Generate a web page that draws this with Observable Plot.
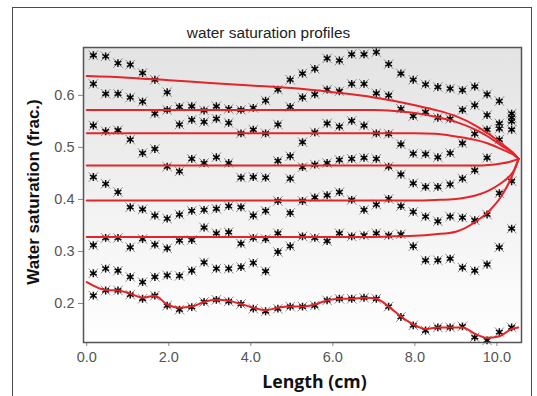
<!DOCTYPE html>
<html><head><meta charset="utf-8">
<script src="https://cdn.jsdelivr.net/npm/d3@7"></script>
<script src="https://cdn.jsdelivr.net/npm/@observablehq/plot@0.6"></script>
<style>
html,body{margin:0;padding:0;background:#fff;}
#wrap{position:relative;width:537px;height:396px;overflow:hidden;}
#outer{position:absolute;left:12px;top:7px;width:520px;height:420px;border:1.5px solid #4a4a4a;box-sizing:border-box;pointer-events:none;}
#chart{position:absolute;left:0;top:0;}
</style></head><body>
<div id="wrap"><div id="chart"></div><div id="outer"></div></div>
<script>
// measurement positions along the core (cm)
const positions = [0.16,0.46,0.76,1.06,1.36,1.66,1.96,2.26,2.56,2.86,3.16,3.46,3.76,4.06,4.36,4.66,4.96,5.26,5.56,5.86,6.16,6.46,6.76,7.06,7.36,7.66,7.96,8.26,8.56,8.86,9.16,9.46,9.76,10.06,10.36];
// measured saturation profiles (asterisks)
const profile1 = [0.677,0.675,0.662,0.659,0.643,0.630,0.606,0.578,0.579,0.571,0.579,0.574,0.572,0.576,0.590,0.611,0.630,0.642,0.651,0.671,0.667,0.679,0.679,0.683,0.660,0.642,0.630,0.621,0.616,0.613,0.610,0.617,0.602,0.589,0.565];
const profile2 = [0.622,0.603,0.603,0.596,0.588,0.565,0.572,0.544,0.553,0.549,0.555,0.547,0.527,0.534,0.527,0.544,0.578,0.596,0.602,0.611,0.608,0.622,0.622,0.604,0.600,0.574,0.560,0.568,0.557,0.555,0.572,0.581,0.562,0.546,0.557];
const profile3 = [0.542,0.531,0.533,0.515,0.489,0.497,0.463,0.454,0.478,0.470,0.481,0.470,0.442,0.443,0.442,0.474,0.483,0.510,0.529,0.546,0.540,0.551,0.542,0.527,0.526,0.506,0.488,0.487,0.481,0.489,0.508,0.526,0.534,0.536,0.550];
const profile4 = [0.443,0.430,0.414,0.385,0.381,0.369,0.363,0.371,0.378,0.380,0.382,0.387,0.385,0.369,0.378,0.397,0.440,0.462,0.467,0.470,0.476,0.478,0.480,0.478,0.463,0.448,0.431,0.424,0.424,0.429,0.440,0.456,0.480,0.515,0.534];
const profile5 = [0.312,0.326,0.326,0.308,0.324,0.313,0.306,0.321,0.322,0.346,0.335,0.337,0.315,0.326,0.324,0.335,0.374,0.397,0.404,0.408,0.414,0.399,0.380,0.390,0.401,0.387,0.376,0.367,0.358,0.367,0.365,0.360,0.371,0.412,0.435];
const profile6 = [0.258,0.267,0.263,0.251,0.241,0.251,0.254,0.253,0.263,0.279,0.267,0.267,0.270,0.278,0.262,0.299,0.310,0.329,0.326,0.320,0.335,0.329,0.331,0.335,0.331,0.333,0.310,0.283,0.283,0.286,0.269,0.263,0.275,0.308,0.344];
const profile7 = [0.215,0.225,0.225,0.217,0.209,0.215,0.196,0.188,0.193,0.203,0.207,0.204,0.199,0.190,0.185,0.190,0.194,0.194,0.196,0.206,0.209,0.209,0.211,0.209,0.194,0.174,0.158,0.148,0.154,0.154,0.156,0.135,0.129,0.145,0.154];
const profiles = [profile1,profile2,profile3,profile4,profile5,profile6,profile7];

// fitted (simulated) profiles, red curves
const fitX = [0,1,2,3,4,5,6,7,7.5,8,8.5,9,9.5,9.8,10.1,10.3,10.42,10.53];
const fit1 = [0.637,0.634,0.629,0.624,0.619,0.614,0.606,0.596,0.589,0.581,0.572,0.560,0.541,0.526,0.508,0.496,0.488,0.478];
const fit2 = [0.572,0.572,0.572,0.572,0.572,0.572,0.572,0.572,0.570,0.566,0.559,0.549,0.533,0.520,0.504,0.494,0.487,0.478];
const fit3 = [0.527,0.527,0.527,0.527,0.527,0.527,0.527,0.527,0.527,0.527,0.526,0.521,0.514,0.507,0.497,0.490,0.485,0.478];
const fit4 = [0.465,0.465,0.465,0.465,0.465,0.465,0.465,0.465,0.465,0.465,0.465,0.465,0.465,0.466,0.469,0.472,0.475,0.478];
const fit5 = [0.398,0.398,0.398,0.398,0.398,0.398,0.398,0.398,0.398,0.398,0.399,0.401,0.408,0.417,0.431,0.444,0.456,0.478];
const fit6 = [0.328,0.328,0.328,0.328,0.328,0.328,0.328,0.328,0.329,0.330,0.333,0.338,0.358,0.377,0.405,0.433,0.455,0.478];
const fitBottomX = [0,0.46,0.76,1.06,1.36,1.66,1.96,2.26,2.56,2.86,3.16,3.46,3.76,4.06,4.36,4.66,4.96,5.26,5.56,5.86,6.16,6.46,6.76,7.06,7.36,7.66,7.96,8.26,8.56,8.86,9.16,9.46,9.76,10.06,10.36,10.52];
const fitBottom = [0.241,0.226,0.225,0.219,0.211,0.215,0.198,0.192,0.194,0.203,0.207,0.205,0.199,0.192,0.187,0.192,0.194,0.194,0.198,0.206,0.209,0.209,0.211,0.209,0.194,0.175,0.160,0.151,0.154,0.154,0.154,0.142,0.134,0.137,0.151,0.154];
const fits = [fit1,fit2,fit3,fit4,fit5,fit6];

const xTicks = [0,2,4,6,8,10];
const yTicks = [0.2,0.3,0.4,0.5,0.6];
const title = "water saturation profiles";
const xLabel = "Length (cm)";
const yLabel = "Water saturation (frac.)";

// tables built from the arrays
const points = [];
profiles.forEach((p, k) => p.forEach((v, i) => points.push({x: positions[i], y: v, k})));
const curves = [];
fits.forEach((f, k) => f.forEach((v, i) => curves.push({x: fitX[i], y: v, k})));
fitBottom.forEach((v, i) => curves.push({x: fitBottomX[i], y: v, k: 6}));

const font = "'Liberation Sans', Arial, sans-serif";
const plot = Plot.plot({
  width: 537, height: 396,
  marginLeft: 83, marginRight: 16, marginTop: 47, marginBottom: 54,
  style: {fontFamily: font, background: "transparent"},
  x: {domain: [-0.08, 10.6]},
  y: {domain: [0.125, 0.692]},
  marks: [
    Plot.frame({fill: "url(#panelGrad)", stroke: null}),
    Plot.axisX(xTicks, {tickSize: 4, tickPadding: 5, fontSize: 14.5, stroke: "#888", fill: "#555", tickFormat: d => d.toFixed(1), label: null}),
    Plot.axisY(yTicks, {tickSize: 5, tickPadding: 4, fontSize: 14.5, stroke: "#888", fill: "#555", tickFormat: d => d.toFixed(1), label: null}),
    Plot.dot(points, {x: "x", y: "y", symbol: "times", r: 4.4, stroke: "#8a8a8a", strokeWidth: 1}),
    Plot.dot(points, {x: "x", y: "y", symbol: "asterisk", r: 3.7, stroke: "#111", strokeWidth: 1.5}),
    Plot.dot(points, {x: "x", y: "y", r: 1.6, fill: "#000", stroke: null}),
    Plot.line(curves, {x: "x", y: "y", z: "k", curve: "monotone-x", stroke: "#e5242a", strokeWidth: 2}),
    Plot.frame({stroke: "#555", strokeWidth: 1.5}),
    Plot.text([title], {frameAnchor: "top", lineAnchor: "middle", dx: -34, dy: -14, fontSize: 15.4, fill: "#222"}),
    Plot.text([xLabel], {frameAnchor: "bottom", lineAnchor: "middle", dx: 12, dy: 40, fontSize: 17.7, fontWeight: "bold", fill: "#111", fontFamily: "'Open Sans', sans-serif"}),
    Plot.text([yLabel], {frameAnchor: "left", textAnchor: "middle", lineAnchor: "middle", rotate: -90, dx: -50, dy: -3, fontSize: 17, fontWeight: "bold", fill: "#111"})
  ]
});
const svg = d3.select(plot);
const grad = svg.insert("defs", ":first-child").append("linearGradient")
  .attr("id", "panelGrad").attr("x1", 0).attr("y1", 0).attr("x2", 0).attr("y2", 1);
grad.append("stop").attr("offset", 0).attr("stop-color", "#e3e3e3");
grad.append("stop").attr("offset", 1).attr("stop-color", "#ffffff");
document.getElementById("chart").appendChild(plot);
</script>
</body></html>
